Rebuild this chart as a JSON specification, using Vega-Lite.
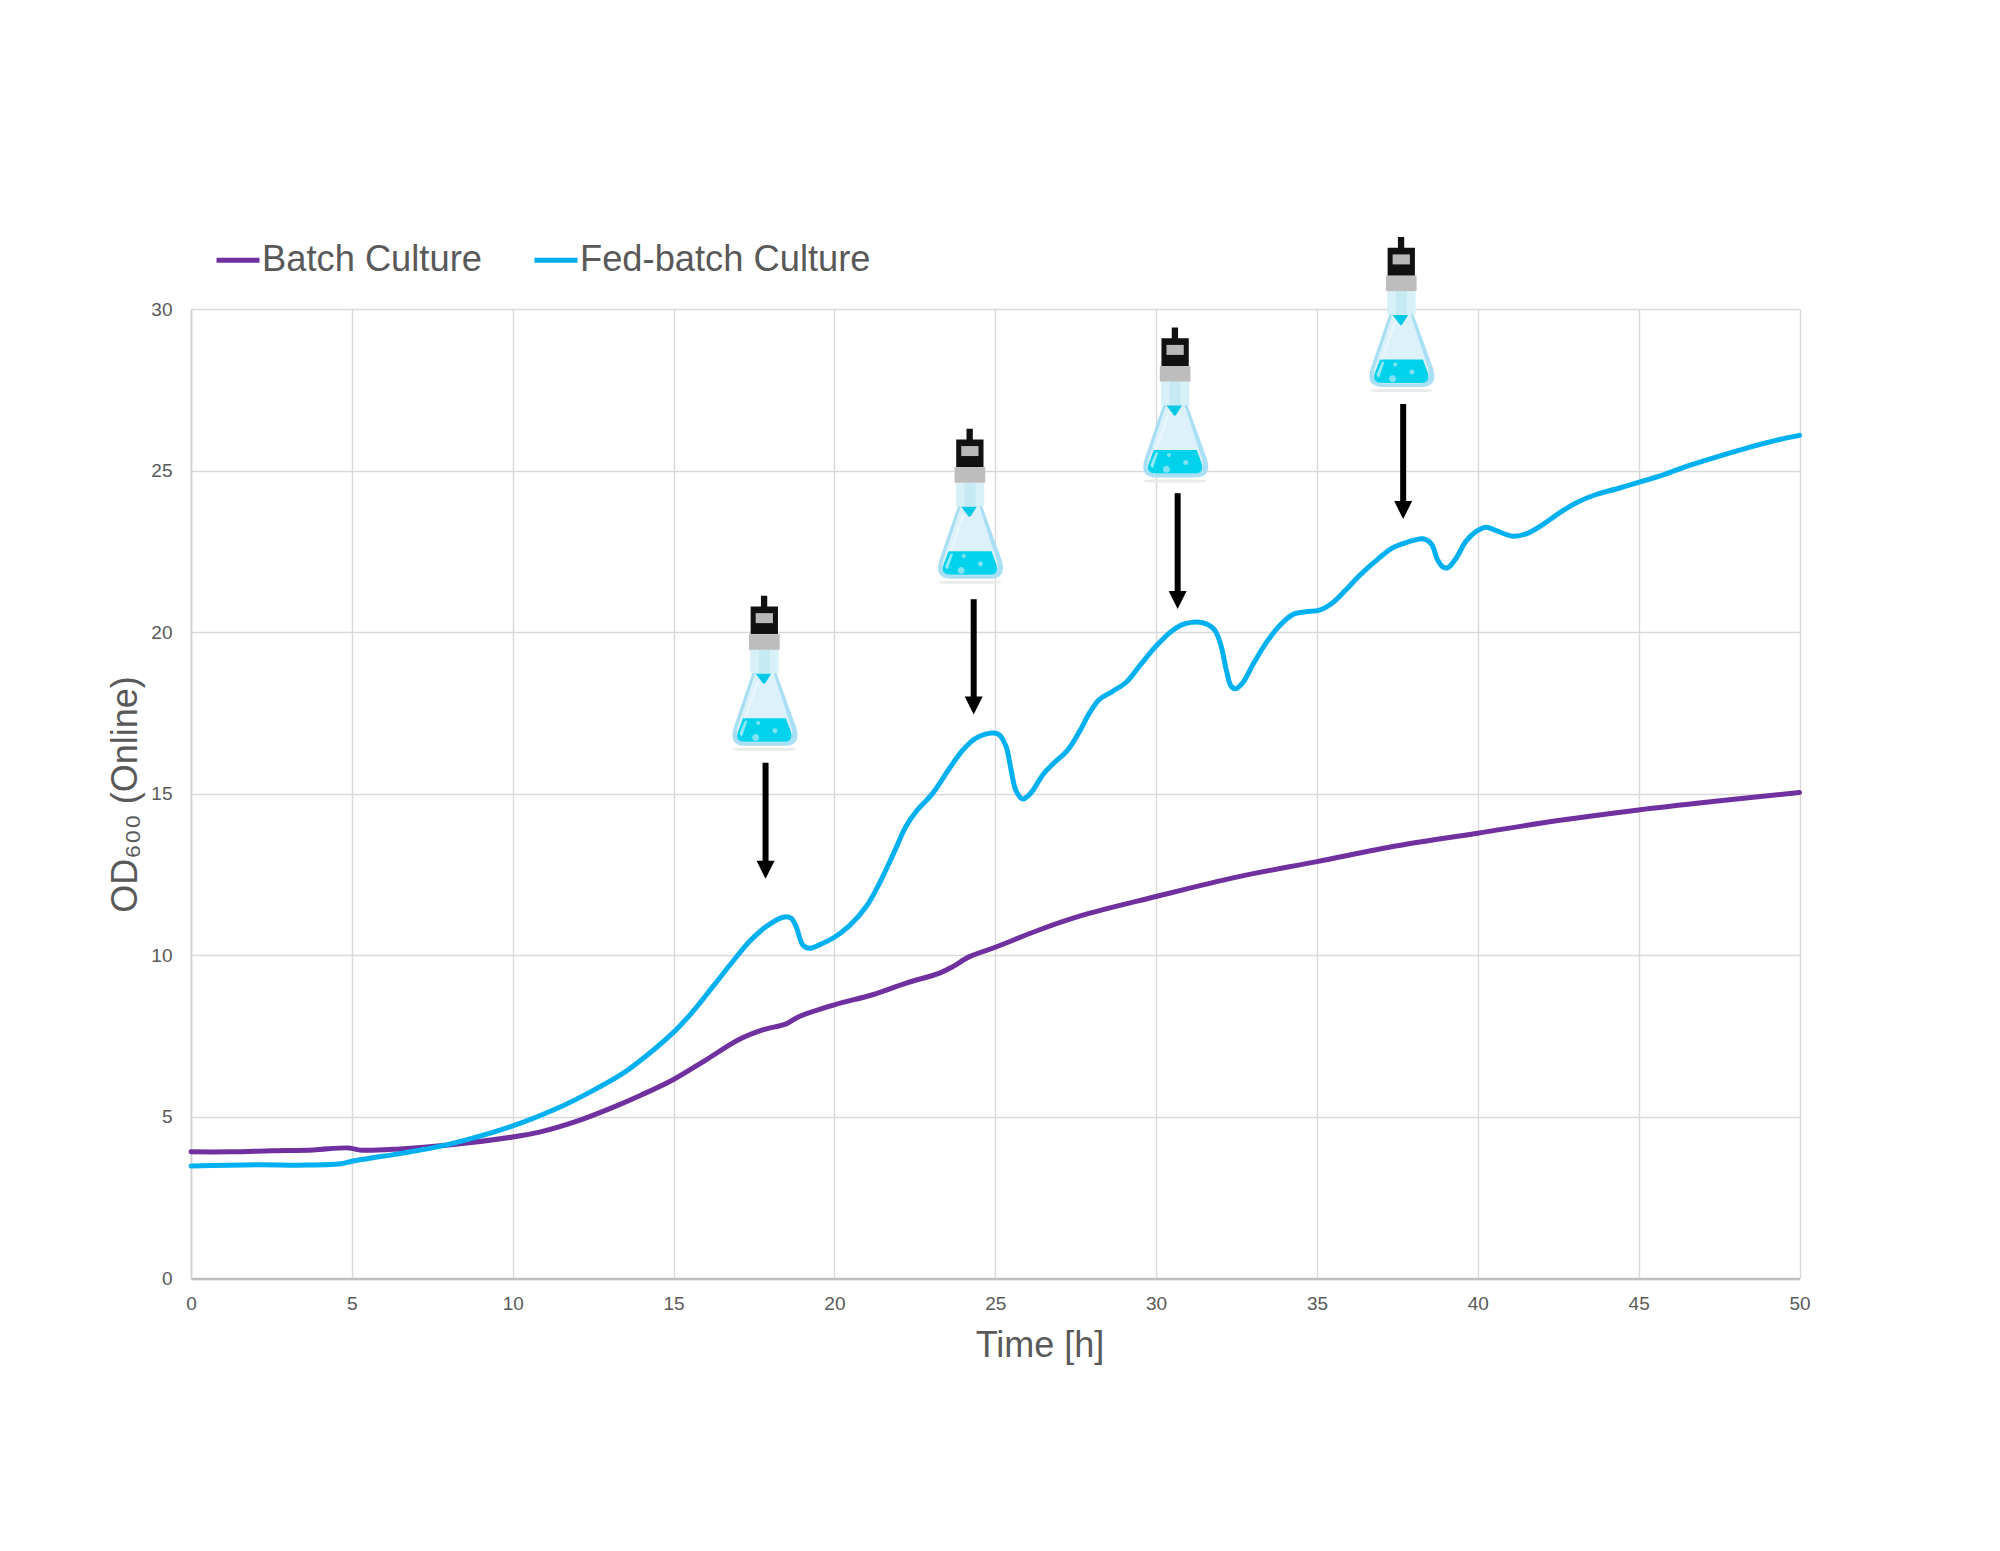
{"$schema":"https://vega.github.io/schema/vega-lite/v6.json","width":1608.5,"height":969.5,"autosize":"none","padding":{"left":191,"top":309,"right":200,"bottom":272.5},"background":"white","config":{"view":{"stroke":null},"font":"Liberation Sans"},
"datasets":{
"series":[
{"t":0,"v":3.92,"s":"Batch Culture"},{"t":1.2,"v":3.92,"s":"Batch Culture"},{"t":2.5,"v":3.95,"s":"Batch Culture"},{"t":3.8,"v":3.98,"s":"Batch Culture"},{"t":4.9,"v":4.04,"s":"Batch Culture"},{"t":5.3,"v":3.97,"s":"Batch Culture"},{"t":6.5,"v":4.01,"s":"Batch Culture"},{"t":8,"v":4.13,"s":"Batch Culture"},{"t":10,"v":4.38,"s":"Batch Culture"},{"t":10.83,"v":4.53,"s":"Batch Culture"},{"t":12,"v":4.87,"s":"Batch Culture"},{"t":13,"v":5.25,"s":"Batch Culture"},{"t":14,"v":5.68,"s":"Batch Culture"},{"t":15,"v":6.16,"s":"Batch Culture"},{"t":16,"v":6.76,"s":"Batch Culture"},{"t":17.05,"v":7.4,"s":"Batch Culture"},{"t":17.77,"v":7.69,"s":"Batch Culture"},{"t":18.5,"v":7.88,"s":"Batch Culture"},{"t":18.91,"v":8.11,"s":"Batch Culture"},{"t":20,"v":8.47,"s":"Batch Culture"},{"t":21.19,"v":8.78,"s":"Batch Culture"},{"t":22.23,"v":9.14,"s":"Batch Culture"},{"t":23.27,"v":9.45,"s":"Batch Culture"},{"t":23.68,"v":9.65,"s":"Batch Culture"},{"t":24.2,"v":9.96,"s":"Batch Culture"},{"t":25,"v":10.25,"s":"Batch Culture"},{"t":26.4,"v":10.8,"s":"Batch Culture"},{"t":27.75,"v":11.25,"s":"Batch Culture"},{"t":30,"v":11.82,"s":"Batch Culture"},{"t":32.5,"v":12.42,"s":"Batch Culture"},{"t":35,"v":12.9,"s":"Batch Culture"},{"t":37.5,"v":13.39,"s":"Batch Culture"},{"t":40,"v":13.78,"s":"Batch Culture"},{"t":42.5,"v":14.17,"s":"Batch Culture"},{"t":45,"v":14.5,"s":"Batch Culture"},{"t":47.6,"v":14.79,"s":"Batch Culture"},{"t":50,"v":15.04,"s":"Batch Culture"},
{"t":0,"v":3.48,"s":"Fed-batch Culture"},{"t":2,"v":3.52,"s":"Fed-batch Culture"},{"t":3.6,"v":3.51,"s":"Fed-batch Culture"},{"t":4.72,"v":3.56,"s":"Fed-batch Culture"},{"t":5,"v":3.63,"s":"Fed-batch Culture"},{"t":5.55,"v":3.72,"s":"Fed-batch Culture"},{"t":6.58,"v":3.88,"s":"Fed-batch Culture"},{"t":8.04,"v":4.16,"s":"Fed-batch Culture"},{"t":10,"v":4.72,"s":"Fed-batch Culture"},{"t":11.35,"v":5.25,"s":"Fed-batch Culture"},{"t":12.39,"v":5.76,"s":"Fed-batch Culture"},{"t":13.4,"v":6.33,"s":"Fed-batch Culture"},{"t":13.94,"v":6.72,"s":"Fed-batch Culture"},{"t":14.98,"v":7.6,"s":"Fed-batch Culture"},{"t":15.6,"v":8.26,"s":"Fed-batch Culture"},{"t":16.22,"v":9.03,"s":"Fed-batch Culture"},{"t":16.84,"v":9.81,"s":"Fed-batch Culture"},{"t":17.36,"v":10.43,"s":"Fed-batch Culture"},{"t":17.88,"v":10.89,"s":"Fed-batch Culture"},{"t":18.4,"v":11.18,"s":"Fed-batch Culture"},{"t":18.65,"v":11.15,"s":"Fed-batch Culture"},{"t":18.81,"v":10.89,"s":"Fed-batch Culture"},{"t":19.02,"v":10.32,"s":"Fed-batch Culture"},{"t":19.23,"v":10.22,"s":"Fed-batch Culture"},{"t":19.59,"v":10.35,"s":"Fed-batch Culture"},{"t":20,"v":10.56,"s":"Fed-batch Culture"},{"t":20.47,"v":10.92,"s":"Fed-batch Culture"},{"t":20.99,"v":11.51,"s":"Fed-batch Culture"},{"t":21.4,"v":12.23,"s":"Fed-batch Culture"},{"t":21.82,"v":13.11,"s":"Fed-batch Culture"},{"t":22.23,"v":14.0,"s":"Fed-batch Culture"},{"t":22.54,"v":14.45,"s":"Fed-batch Culture"},{"t":23.06,"v":15.02,"s":"Fed-batch Culture"},{"t":23.58,"v":15.79,"s":"Fed-batch Culture"},{"t":24,"v":16.36,"s":"Fed-batch Culture"},{"t":24.4,"v":16.72,"s":"Fed-batch Culture"},{"t":24.92,"v":16.88,"s":"Fed-batch Culture"},{"t":25.13,"v":16.82,"s":"Fed-batch Culture"},{"t":25.34,"v":16.45,"s":"Fed-batch Culture"},{"t":25.49,"v":15.75,"s":"Fed-batch Culture"},{"t":25.65,"v":15.08,"s":"Fed-batch Culture"},{"t":25.86,"v":14.84,"s":"Fed-batch Culture"},{"t":26.11,"v":15.03,"s":"Fed-batch Culture"},{"t":26.48,"v":15.59,"s":"Fed-batch Culture"},{"t":26.79,"v":15.92,"s":"Fed-batch Culture"},{"t":27.25,"v":16.35,"s":"Fed-batch Culture"},{"t":27.62,"v":16.93,"s":"Fed-batch Culture"},{"t":27.93,"v":17.5,"s":"Fed-batch Culture"},{"t":28.24,"v":17.92,"s":"Fed-batch Culture"},{"t":28.65,"v":18.17,"s":"Fed-batch Culture"},{"t":29.07,"v":18.45,"s":"Fed-batch Culture"},{"t":29.48,"v":18.95,"s":"Fed-batch Culture"},{"t":30,"v":19.57,"s":"Fed-batch Culture"},{"t":30.52,"v":20.06,"s":"Fed-batch Culture"},{"t":30.93,"v":20.27,"s":"Fed-batch Culture"},{"t":31.45,"v":20.29,"s":"Fed-batch Culture"},{"t":31.81,"v":20.08,"s":"Fed-batch Culture"},{"t":32.02,"v":19.57,"s":"Fed-batch Culture"},{"t":32.18,"v":18.84,"s":"Fed-batch Culture"},{"t":32.33,"v":18.33,"s":"Fed-batch Culture"},{"t":32.47,"v":18.25,"s":"Fed-batch Culture"},{"t":32.69,"v":18.43,"s":"Fed-batch Culture"},{"t":33.01,"v":19,"s":"Fed-batch Culture"},{"t":33.42,"v":19.67,"s":"Fed-batch Culture"},{"t":33.83,"v":20.19,"s":"Fed-batch Culture"},{"t":34.25,"v":20.55,"s":"Fed-batch Culture"},{"t":34.66,"v":20.63,"s":"Fed-batch Culture"},{"t":35.08,"v":20.68,"s":"Fed-batch Culture"},{"t":35.49,"v":20.91,"s":"Fed-batch Culture"},{"t":35.91,"v":21.32,"s":"Fed-batch Culture"},{"t":36.32,"v":21.75,"s":"Fed-batch Culture"},{"t":36.94,"v":22.3,"s":"Fed-batch Culture"},{"t":37.35,"v":22.61,"s":"Fed-batch Culture"},{"t":37.77,"v":22.77,"s":"Fed-batch Culture"},{"t":38.29,"v":22.89,"s":"Fed-batch Culture"},{"t":38.55,"v":22.74,"s":"Fed-batch Culture"},{"t":38.75,"v":22.24,"s":"Fed-batch Culture"},{"t":38.91,"v":22.02,"s":"Fed-batch Culture"},{"t":39.06,"v":21.99,"s":"Fed-batch Culture"},{"t":39.32,"v":22.28,"s":"Fed-batch Culture"},{"t":39.63,"v":22.81,"s":"Fed-batch Culture"},{"t":39.95,"v":23.12,"s":"Fed-batch Culture"},{"t":40.26,"v":23.25,"s":"Fed-batch Culture"},{"t":40.57,"v":23.14,"s":"Fed-batch Culture"},{"t":41.09,"v":22.97,"s":"Fed-batch Culture"},{"t":41.5,"v":23.04,"s":"Fed-batch Culture"},{"t":42.02,"v":23.33,"s":"Fed-batch Culture"},{"t":42.54,"v":23.69,"s":"Fed-batch Culture"},{"t":43.05,"v":24,"s":"Fed-batch Culture"},{"t":43.68,"v":24.26,"s":"Fed-batch Culture"},{"t":44.3,"v":24.43,"s":"Fed-batch Culture"},{"t":45.02,"v":24.64,"s":"Fed-batch Culture"},{"t":45.85,"v":24.9,"s":"Fed-batch Culture"},{"t":46.58,"v":25.16,"s":"Fed-batch Culture"},{"t":47.51,"v":25.45,"s":"Fed-batch Culture"},{"t":48.44,"v":25.72,"s":"Fed-batch Culture"},{"t":49.38,"v":25.96,"s":"Fed-batch Culture"},{"t":50,"v":26.09,"s":"Fed-batch Culture"}],
"arrows":[{"t":17.86,"v":15.96,"neck":12.9,"tip":12.37},{"t":24.33,"v":21.02,"neck":17.95,"tip":17.45},{"t":30.67,"v":24.3,"neck":21.25,"tip":20.72},{"t":37.68,"v":27.06,"neck":24.0,"tip":23.5}],
"flasks":[{"t":17.81,"v":18.68},{"t":24.2,"v":23.85},{"t":30.58,"v":26.98},{"t":37.61,"v":29.78}]},
"encoding":{"x":{"field":"t","type":"quantitative","scale":{"domain":[0,50],"nice":false},"axis":{"title":"Time [h]","values":[0,5,10,15,20,25,30,35,40,45,50],"ticks":false,"grid":true,"gridColor":"#D9D9D9","gridWidth":1.4,"domainColor":"#BFBFBF","domainWidth":2.5,"labelFlush":false,"labelOverlap":false,"labelFont":"Liberation Sans","labelFontSize":19,"labelColor":"#595959","labelPadding":16,"labelFontWeight":"normal","titleFont":"Liberation Sans","titleFontSize":36,"titleFontWeight":"normal","titleColor":"#595959","titleX":848.5,"titleY":78,"titleBaseline":"alphabetic","titleAnchor":"middle","titleAlign":"center"}},
"y":{"field":"v","type":"quantitative","scale":{"domain":[0,30],"nice":false},"axis":{"title":"OD₆₀₀ (Online)","values":[0,5,10,15,20,25,30],"ticks":false,"grid":true,"gridColor":"#D9D9D9","gridWidth":1.4,"domainColor":"#D0D0D0","domainWidth":1.6,"labelFlush":false,"labelOverlap":false,"labelFont":"Liberation Sans","labelFontSize":19,"labelColor":"#595959","labelPadding":19,"titleFont":"Liberation Sans","titleFontSize":36,"titleFontWeight":"normal","titleColor":"#595959","titleX":-55,"titleY":485,"titleAngle":-90,"titleBaseline":"alphabetic","titleAlign":"center"}}},
"layer":[
{"data":{"name":"series"},"mark":{"type":"line","interpolate":"catmull-rom","strokeWidth":5,"strokeCap":"round","strokeJoin":"round"},"encoding":{"color":{"field":"s","type":"nominal","scale":{"domain":["Batch Culture","Fed-batch Culture"],"range":["#7030A0","#00B0F0"]},"legend":{"title":null,"orient":"none","legendX":23,"legendY":-73,"direction":"horizontal","symbolType":"stroke","symbolSize":1849,"symbolStrokeWidth":5,"labelFont":"Liberation Sans","labelFontSize":36.3,"labelColor":"#595959","labelOffset":0,"columnPadding":42,"padding":0,"labelLimit":500}}}},
{"data":{"name":"arrows"},"mark":{"type":"rule","color":"#000000","strokeWidth":6},"encoding":{"y2":{"field":"neck"}}},
{"data":{"name":"arrows"},"mark":{"type":"point","shape":"M -9,-18 L 9,-18 L 0,0 Z","size":4,"filled":true,"fill":"#000000","opacity":1,"strokeWidth":0},"encoding":{"y":{"field":"tip","type":"quantitative"}}},
{"data":{"name":"flasks"},"mark":{"type":"point","shape":"M -31,74.5 Q -31,73 -20,73 L 20,73 Q 32,73 32,74.5 Q 32,76 20,76 L -20,76 Q -31,76 -31,74.5 Z","size":4,"filled":true,"fill":"#EAEAEA","opacity":1,"strokeWidth":0}},
{"data":{"name":"flasks"},"mark":{"type":"point","shape":"M -11.5,-2 L -30,52 Q -36,71 -18,71 L 20,71 Q 38,71 32,52 L 12.5,-2 Z","size":4,"filled":true,"fill":"#A8DFF5","opacity":1,"strokeWidth":0}},
{"data":{"name":"flasks"},"mark":{"type":"point","shape":"M -8.5,-2 L -26.5,53 Q -30,67.5 -17,67.5 L 18,67.5 Q 31,67.5 27.5,53 L 9.5,-2 Z","size":4,"filled":true,"fill":"#DDF1FA","opacity":1,"strokeWidth":0}},
{"data":{"name":"flasks"},"mark":{"type":"point","shape":"M -21,43.5 L 22,43.5 L 27,57 Q 29.5,67 20,67 L -18,67 Q -29.5,67 -26,57 Z","size":4,"filled":true,"fill":"#00D2EC","opacity":1,"strokeWidth":0}},
{"data":{"name":"flasks"},"mark":{"type":"point","shape":"M -7,6 L -4.5,6 L -18,43.5 L -20,43.5 Z M -19,46 L -16.5,46 L -22,62 L -24.5,59 Z","size":4,"filled":true,"fill":"#F2FBFE","opacity":0.6,"strokeWidth":0}},
{"data":{"name":"flasks"},"mark":{"type":"point","shape":"M -11.8,62.7 A 3.5,3.5 0 1 0 -4.8,62.7 A 3.5,3.5 0 1 0 -11.8,62.7 Z M -7.7,48.3 A 2,2 0 1 0 -3.7,48.3 A 2,2 0 1 0 -7.7,48.3 Z M 8.5,56 A 2.5,2.5 0 1 0 13.5,56 A 2.5,2.5 0 1 0 8.5,56 Z","size":4,"filled":true,"fill":"#7FE3F3","opacity":1,"strokeWidth":0}},
{"data":{"name":"flasks"},"mark":{"type":"point","shape":"M -13.7,-25 L 14.7,-25 L 14.7,-1.5 L -13.7,-1.5 Z","size":4,"filled":true,"fill":"#D8F0F7","opacity":1,"strokeWidth":0}},
{"data":{"name":"flasks"},"mark":{"type":"point","shape":"M -5,-25 L 6,-25 L 6,-1.5 L -5,-1.5 Z","size":4,"filled":true,"fill":"#C6EAF3","opacity":1,"strokeWidth":0}},
{"data":{"name":"flasks"},"mark":{"type":"point","shape":"M -8.3,-1 L 7.3,-1 L 1.5,8 L 0,9.3 L -1.5,8 Z","size":4,"filled":true,"fill":"#00C8E6","opacity":1,"strokeWidth":0}},
{"data":{"name":"flasks"},"mark":{"type":"point","shape":"M -15,-40.7 L 15.7,-40.7 L 15.7,-25 L -15,-25 Z","size":4,"filled":true,"fill":"#BDBDBD","opacity":1,"strokeWidth":0}},
{"data":{"name":"flasks"},"mark":{"type":"point","shape":"M -13.3,-68.3 L 14,-68.3 L 14,-40.7 L -13.3,-40.7 Z M -3,-79 L 3.3,-79 L 3.3,-68.3 L -3,-68.3 Z","size":4,"filled":true,"fill":"#111111","opacity":1,"strokeWidth":0}},
{"data":{"name":"flasks"},"mark":{"type":"point","shape":"M -8.3,-61.7 L 9,-61.7 L 9,-51.7 L -8.3,-51.7 Z","size":4,"filled":true,"fill":"#B8B8B8","opacity":1,"strokeWidth":0}}
]}
